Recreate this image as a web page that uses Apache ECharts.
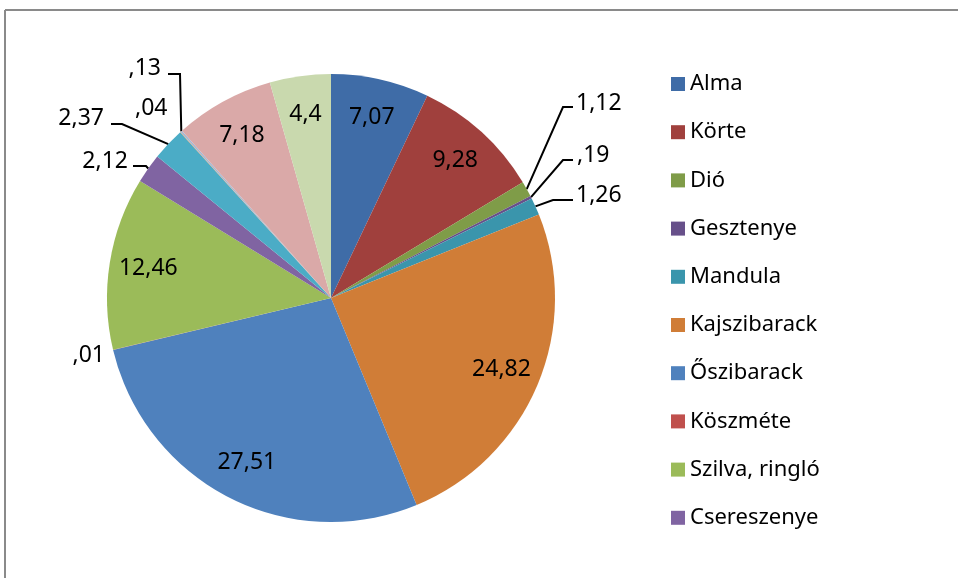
<!DOCTYPE html>
<html>
<head>
<meta charset="utf-8">
<script src="https://cdn.jsdelivr.net/npm/echarts@6/dist/echarts.min.js"></script>
<style>
  html, body { margin: 0; padding: 0; background: #ffffff; }
  #chart { width: 958px; height: 578px; }
</style>
</head>
<body>
<div id="chart"></div>
<script>
// Fruit categories and their percentage shares
const categories = ['Alma', 'Körte', 'Dió', 'Gesztenye', 'Mandula', 'Kajszibarack', 'Őszibarack',
  'Köszméte', 'Szilva, ringló', 'Csereszenye', 'Meggy', 'Málna', 'Ribiszke', 'Szamóca', 'Egyéb'];
const shares = [7.07, 9.28, 1.12, 0.19, 1.26, 24.82, 27.51, 0.01, 12.46, 2.12, 2.37, 0.04, 0.13, 7.18, 4.4];
const legendNames = categories.slice(0, 10);

const sliceColors = ['#3F6CA7', '#A0403D', '#7F9C48', '#67508A', '#3A95AC', '#D07D37', '#4F81BD',
  '#C0504D', '#9BBB59', '#8064A2', '#4BACC6', '#F79646', '#A5B8D4', '#DAA9A8', '#C9D9AE'];

// Pie geometry
const CX = 331, CY = 298, R = 224;
const FONT = 'Noto Sans';

// Small slices get their labels outside, some with elbow leader lines
const outsideLayout = {
  2:  { x: 576, y: 103, align: 'left',  line: [[563, 107], [573, 107]] },
  3:  { x: 577, y: 155, align: 'left',  line: [[563, 160], [573, 160]] },
  4:  { x: 576, y: 195, align: 'left',  line: [[553, 200], [573, 200]] },
  7:  { x: 105, y: 355, align: 'right' },
  9:  { x: 128, y: 161, align: 'right', line: [[146, 166], [133, 166]] },
  10: { x: 104, y: 118, align: 'right', line: [[122, 124], [111, 124]] },
  11: { x: 135, y: 108, align: 'left' },
  12: { x: 161, y: 68,  align: 'right', line: [[180, 74], [168, 74]] }
};

function fmt(v) {
  let s = String(v).replace('.', ',');
  if (s.indexOf('0,') === 0) s = s.slice(1);
  return s;
}

const total = shares.reduce((a, b) => a + b, 0);
// Point on the outer rim at the middle angle of slice i
function rimPoint(i) {
  let before = 0;
  for (let k = 0; k < i; k++) before += shares[k];
  const frac = (before + shares[i] / 2) / total;
  const a = frac * Math.PI * 2;
  return [CX + R * Math.sin(a), CY - R * Math.cos(a)];
}

const pieData = categories.map((name, i) => {
  const L = outsideLayout[i];
  return {
    name: name,
    value: shares[i],
    itemStyle: { color: sliceColors[i] },
    label: { show: !!L },
    labelLine: { show: !!(L && L.line) }
  };
});

const labelRingData = categories.map((name, i) => ({
  name: name,
  value: shares[i],
  label: { show: !outsideLayout[i] }
}));

const chart = echarts.init(document.getElementById('chart'), null, { renderer: 'canvas' });

chart.setOption({
  backgroundColor: '#ffffff',
  animation: false,
  graphic: [
    { type: 'line', shape: { x1: 5, y1: 10, x2: 958, y2: 10 }, style: { stroke: '#8a8a8a', lineWidth: 2 } },
    { type: 'line', shape: { x1: 5, y1: 10, x2: 5, y2: 578 }, style: { stroke: '#8a8a8a', lineWidth: 2 } }
  ],
  legend: {
    data: legendNames,
    orient: 'vertical',
    left: 666,
    top: 68,
    icon: 'rect',
    itemWidth: 14,
    itemHeight: 14,
    itemGap: 26.2,
    selectedMode: false,
    textStyle: { fontFamily: FONT, fontSize: 22, lineHeight: 22, color: '#000000' }
  },
  series: [
    {
      type: 'pie',
      center: [CX, CY],
      radius: [0, R],
      startAngle: 90,
      clockwise: true,
      avoidLabelOverlap: false,
      silent: true,
      emphasis: { disabled: true },
      data: pieData,
      itemStyle: { borderWidth: 0 },
      label: {
        position: 'outside',
        formatter: p => fmt(p.value),
        fontFamily: FONT,
        fontSize: 23,
        color: '#000000'
      },
      labelLine: {
        length: 10,
        length2: 10,
        lineStyle: { color: '#000000', width: 2 }
      },
      labelLayout: function (p) {
        const L = outsideLayout[p.dataIndex];
        if (!L) return {};
        const res = { x: L.x, y: L.y, align: L.align, verticalAlign: 'middle' };
        if (L.line) res.labelLinePoints = [rimPoint(p.dataIndex), L.line[0], L.line[1]];
        return res;
      }
    },
    {
      // transparent ring that carries the in-slice value labels
      type: 'pie',
      center: [CX, CY],
      radius: [140, R],
      startAngle: 90,
      clockwise: true,
      silent: true,
      emphasis: { disabled: true },
      data: labelRingData,
      itemStyle: { color: 'rgba(0,0,0,0)', borderWidth: 0 },
      label: {
        position: 'inside',
        formatter: p => fmt(p.value),
        fontFamily: FONT,
        fontSize: 23,
        color: '#000000'
      },
      labelLine: { show: false }
    }
  ]
});
</script>
</body>
</html>
